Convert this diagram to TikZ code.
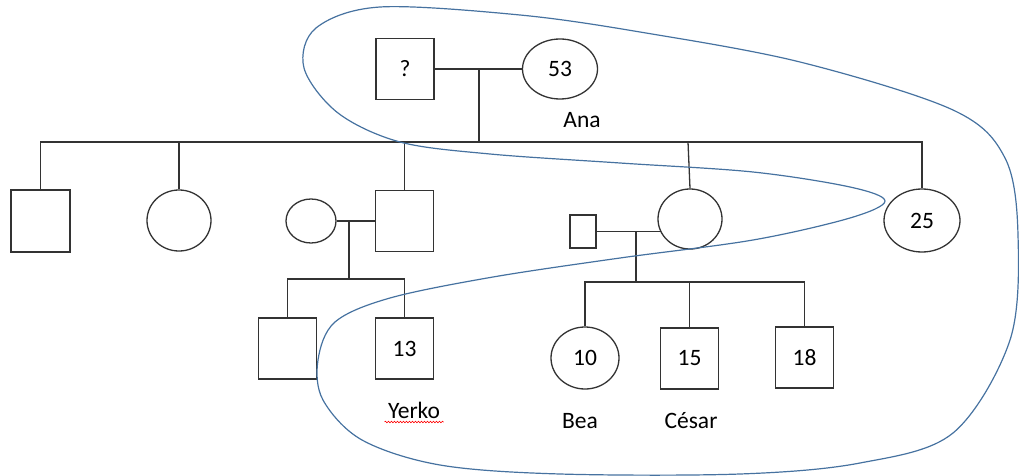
\documentclass[tikz,border=0pt]{standalone}
\usepackage{fontspec}
\setmainfont{Carlito}
\usetikzlibrary{shapes.geometric,decorations.pathmorphing}

\begin{document}
\begin{tikzpicture}[x=1pt,y=-1pt,
  font=\fontsize{23.5}{27}\selectfont,
  lnk/.style={line width=1.3pt, draw=black!80},
  male/.style={draw=black!80, line width=1.3pt, rectangle, inner sep=0pt,
    minimum width=58pt, minimum height=61pt},
  female/.style={draw=black!80, line width=1.3pt, ellipse, inner sep=0pt},
  lbl/.style={anchor=base},
  hull/.style={draw={rgb,255:red,70;green,114;blue,160}, line width=1.2pt}
]
\useasboundingbox (0,0) rectangle (1019,476);

% generation I
\node[male] (q) at (405,69) {?};
\node[female, minimum width=75pt, minimum height=60pt] (ana) at (560,69) {53};
\node[lbl] (anaL) at (582,128) {Ana};

% generation II
\node[male, minimum width=59pt, minimum height=62pt] (s1) at (40.5,221) {};
\node[female, minimum width=64pt, minimum height=61pt] (f2) at (179,220.5) {};
\node[female, minimum width=50pt, minimum height=44pt] (w3) at (311,221) {};
\node[male] (h3) at (404.5,221) {};
\node[male, minimum width=26pt, minimum height=33pt] (h4) at (583,231.5) {};
\node[female, minimum width=64pt, minimum height=60pt] (d4) at (690,219) {};
\node[female, minimum width=76pt, minimum height=63pt] (d5) at (922,220.5) {25};

% generation III
\node[male] (g1) at (287.5,348.5) {};
\node[male] (yerko) at (404.5,348.5) {13};
\node[female, minimum width=68pt, minimum height=62pt] (bea) at (585,358) {10};
\node[male] (cesar) at (689.5,358.5) {15};
\node[male] (g18) at (804.5,357.5) {18};

\node[lbl] (yerkoL) at (414,418) {Yerko};
\node[lbl] (beaL) at (580,428) {Bea};
\node[lbl] (cesarL) at (691,428) {César};

% spelling underline
\draw[red, line width=0.6pt, decorate, decoration={snake, amplitude=0.8pt, segment length=3pt}]
  ([yshift=-4pt]yerkoL.base west) -- ([yshift=-4pt]yerkoL.base east);

% couple I and sibship
\coordinate (m1) at (479,69);
\coordinate (bar1) at (479,142);
\draw[lnk] (q.east) -- (ana.west);
\draw[lnk] (m1) -- (bar1);
\draw[lnk] (s1.north) |- (bar1) -| (d5.north);
\draw[lnk] (f2.north) -- (f2.north |- bar1);
\draw[lnk] (h3.north) -- (h3.north |- bar1);
\draw[lnk] (d4.north) -- ([xshift=-2pt]d4.north |- bar1);

% couple II-a and children
\coordinate (m2) at (349,222);
\coordinate (bar2) at (349,279);
\draw[lnk] (w3.east) -- (h3.west);
\draw[lnk] (m2) -- (bar2);
\draw[lnk] (g1.north) |- (bar2) -| (yerko.north);

% couple II-b and children
\coordinate (m3) at (636,232);
\coordinate (bar3) at (636,282);
\draw[lnk] (h4.east) -- (h4.east -| d4.204);
\draw[lnk] (m3) -- (bar3);
\draw[lnk] (bea.north) |- (bar3) -| (g18.north);
\draw[lnk] (cesar.north) -- (cesar.north |- bar3);

% household outline
\draw[hull] plot[smooth cycle, tension=0.55] coordinates {
  (380,7) (520,15) (640,32) (800,62) (953,110) (1005,158) (1018,235)
  (1010,340) (953,433) (860,463) (740,474) (560,474) (440,465) (362,440)
  (323,400) (318,360) (335,322) (390,298) (493,277) (620,258) (753,240)
  (850,218) (885,201) (850,187) (753,172) (620,163) (490,154) (400,142)
  (338,113) (304,68) (316,28)};
\end{tikzpicture}
\end{document}
